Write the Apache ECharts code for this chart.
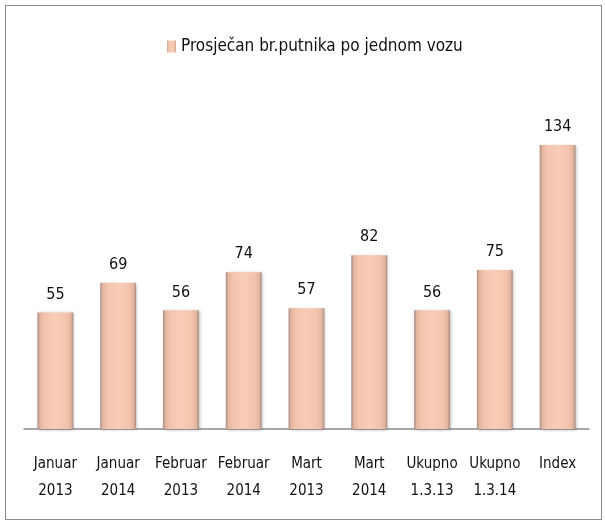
<!DOCTYPE html>
<html>
<head>
<meta charset="utf-8">
<script src="https://cdn.jsdelivr.net/npm/echarts@6/dist/echarts.min.js"></script>
<style>
  html, body { margin: 0; padding: 0; background: #fff; }
  #chart { position: absolute; left: 5px; top: 5px; width: 597px; height: 515px; border: 1px solid #8c8c8c; box-sizing: border-box; }
</style>
</head>
<body>
<div id="chart"></div>
<script>
var categories = ['Januar\n2013', 'Januar\n2014', 'Februar\n2013', 'Februar\n2014', 'Mart\n2013', 'Mart\n2014', 'Ukupno\n1.3.13', 'Ukupno\n1.3.14', 'Index'];
var values = [55, 69, 56, 74, 57, 82, 56, 75, 134];
var seriesName = 'Prosječan br.putnika po jednom vozu';

var fontFam = '"Liberation Sans Narrow", "DejaVu Sans Condensed", sans-serif';

var barFill = new echarts.graphic.LinearGradient(0, 0, 1, 0, [
  { offset: 0, color: '#a88a80' },
  { offset: 0.07, color: '#e3b6a0' },
  { offset: 0.2, color: '#f4c4ac' },
  { offset: 0.5, color: '#f8cdb8' },
  { offset: 0.8, color: '#f4c4ac' },
  { offset: 0.93, color: '#e3b6a0' },
  { offset: 1, color: '#a88a80' }
]);

var chart = echarts.init(document.getElementById('chart'));
chart.setOption({
  animation: false,
  legend: {
    top: 27,
    left: 156,
    itemWidth: 9,
    itemHeight: 12,
    icon: 'rect',
    itemGap: 4,
    textStyle: { fontFamily: fontFam, fontSize: 17, color: '#111' },
    data: [seriesName]
  },
  grid: { left: 18, right: 12, top: 84, bottom: 90, containLabel: false },
  xAxis: {
    type: 'category',
    data: categories,
    axisLine: { lineStyle: { color: '#8c8c8c', width: 1.5 } },
    axisTick: { show: false },
    axisLabel: { margin: 22, fontFamily: fontFam, fontSize: 15, color: '#111', lineHeight: 27, interval: 0 }
  },
  yAxis: {
    type: 'value',
    min: 0,
    max: 160,
    show: false
  },
  series: [{
    name: seriesName,
    type: 'bar',
    data: values,
    barCategoryGap: '43%',
    itemStyle: {
      color: barFill,
      shadowColor: 'rgba(0,0,0,0.25)',
      shadowBlur: 3,
      shadowOffsetX: 1,
      shadowOffsetY: 1
    },
    label: {
      show: true,
      position: 'top',
      distance: 10,
      fontFamily: fontFam,
      fontSize: 16,
      color: '#111'
    }
  }]
});
</script>
</body>
</html>
